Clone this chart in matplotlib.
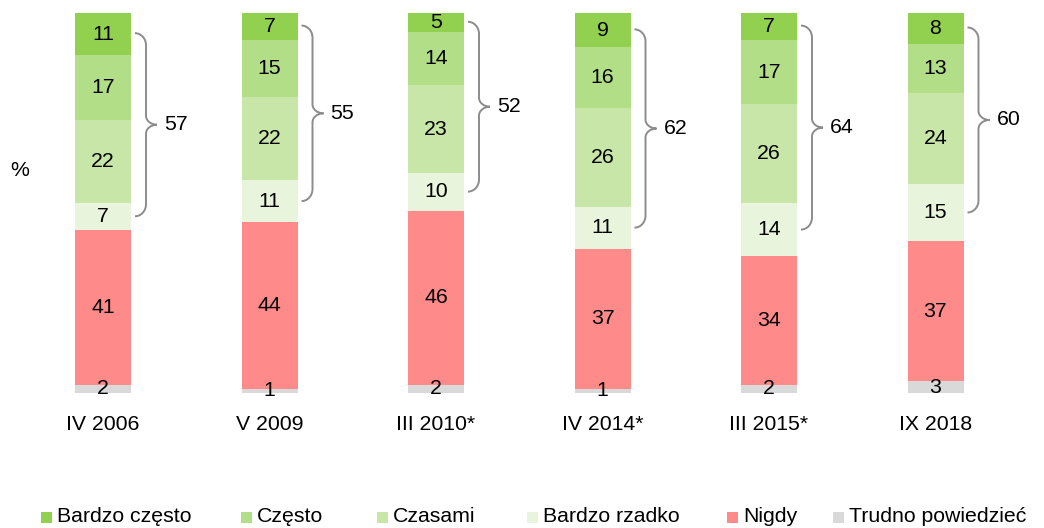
import matplotlib
matplotlib.use("Agg")
import matplotlib.pyplot as plt
from matplotlib.path import Path
from matplotlib.patches import PathPatch, Rectangle
import numpy as np

plt.rcParams['font.family'] = ['Liberation Sans', 'DejaVu Sans']

categories = ["IV 2006", "V 2009", "III 2010*", "IV 2014*", "III 2015*", "IX 2018"]
series_names = ["Bardzo często", "Często", "Czasami", "Bardzo rzadko", "Nigdy", "Trudno powiedzieć"]
bardzo_czesto = [11, 7, 5, 9, 7, 8]
czesto = [17, 15, 14, 16, 17, 13]
czasami = [22, 22, 23, 26, 26, 24]
bardzo_rzadko = [7, 11, 10, 11, 14, 15]
nigdy = [41, 44, 46, 37, 34, 37]
trudno = [2, 1, 2, 1, 2, 3]
bracket_totals = [57, 55, 52, 62, 64, 60]

colors = ["#92D050", "#B3DE88", "#C7E6A7", "#E8F4DB", "#FF8A8A", "#D9D9D9"]

FS = 15.3
W, H = 1044, 528
fig = plt.figure(figsize=(W / 100, H / 100), dpi=100)
ax = fig.add_axes([0, 0, 1, 1])

# pixel mapping helpers (layout only)
x0px, xstep = 103.0, 166.5
y0px, yscale = 392.7, 3.794
ax.set_xlim(-x0px / xstep, (W - x0px) / xstep)
ax.set_ylim((y0px - H) / yscale, y0px / yscale)
ax.axis('off')

dxp = 1.0 / xstep   # data units per pixel (x)
dyp = 1.0 / yscale  # data units per pixel (y)

# stack from bottom: trudno, nigdy, rzadko, czasami, czesto, bardzo czesto
stack_order = [trudno, nigdy, bardzo_rzadko, czasami, czesto, bardzo_czesto]
stack_colors = [colors[5], colors[4], colors[3], colors[2], colors[1], colors[0]]
x = np.arange(len(categories))
bw = 56 * dxp
bottom = np.zeros(len(categories))
for vals, col in zip(stack_order, stack_colors):
    vals = np.array(vals, dtype=float)
    ax.bar(x, vals, bw, bottom=bottom, color=col, edgecolor='none')
    for xi, b, v in zip(x, bottom, vals):
        ax.text(xi, b + v / 2, f"{int(v)}", ha='center', va='center', fontsize=FS, color='black')
    bottom += vals

# braces
k = 0.5523
for i, tot in enumerate(bracket_totals):
    top_seg = bardzo_czesto[i]
    yt = 100 - top_seg / 2 + 1 * dyp
    base = trudno[i] + nigdy[i]
    yb = base + bardzo_rzadko[i] / 2
    ym = (yt + yb) / 2
    xs = x[i] + bw / 2 + 4 * dxp
    xm = xs + 11 * dxp
    xt = xs + 22 * dxp
    r = 12 * dyp
    rt = 9 * dyp
    ex = xm - xs
    tx = xt - xm
    verts = [
        (xs, yt), (xs + k * ex, yt), (xm, yt - (1 - k) * r), (xm, yt - r),
        (xm, ym + rt),
        (xm, ym + rt - k * rt), (xt - k * tx, ym), (xt, ym),
        (xt - k * tx, ym), (xm, ym - rt + k * rt), (xm, ym - rt),
        (xm, yb + r),
        (xm, yb + (1 - k) * r), (xs + k * ex, yb), (xs, yb),
    ]
    codes = [Path.MOVETO, Path.CURVE4, Path.CURVE4, Path.CURVE4,
             Path.LINETO,
             Path.CURVE4, Path.CURVE4, Path.CURVE4,
             Path.CURVE4, Path.CURVE4, Path.CURVE4,
             Path.LINETO,
             Path.CURVE4, Path.CURVE4, Path.CURVE4]
    ax.add_patch(PathPatch(Path(verts, codes), facecolor='none', edgecolor='#8C8C8C', lw=1.4))
    ax.text(xt + 7 * dxp, ym, str(tot), ha='left', va='center', fontsize=FS, color='black')

# category labels
for xi, c in zip(x, categories):
    ax.text(xi, (y0px - 425) / yscale, c, ha='center', va='center', fontsize=FS, color='black')

# percent sign
fig.text(19.5 / W, 1 - 170 / H, "%", ha='center', va='center', fontsize=FS, color='black')

# legend (manual layout in figure pixels)
leg_sq_x = [41, 241, 377, 527, 727, 833]
leg_y = 517
sq = 11
for px, name, col in zip(leg_sq_x, series_names, colors):
    fig.add_artist(Rectangle((px / W, 1 - (leg_y + sq / 2) / H), sq / W, sq / H,
                             transform=fig.transFigure, facecolor=col, edgecolor='none'))
    fig.text((px + 16) / W, 1 - leg_y / H, name, ha='left', va='center', fontsize=FS, color='black')

fig.savefig("out.png", dpi=100)
